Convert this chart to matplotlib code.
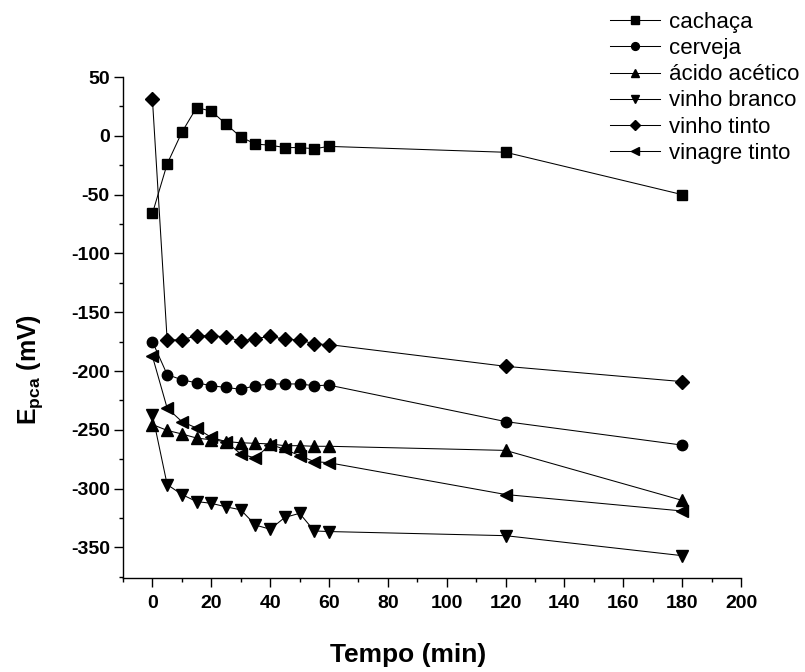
import matplotlib
matplotlib.use("Agg")
import matplotlib.pyplot as plt
from matplotlib.ticker import MultipleLocator

plt.rcParams['font.family'] = ['Liberation Sans', 'DejaVu Sans']
plt.rcParams['axes.unicode_minus'] = False
plt.rcParams['mathtext.fontset'] = 'custom'
plt.rcParams['mathtext.rm'] = 'Liberation Sans'
plt.rcParams['mathtext.bf'] = 'Liberation Sans:bold'

# Sampling times (min)
tempo = [0, 5, 10, 15, 20, 25, 30, 35, 40, 45, 50, 55, 60, 120, 180]

# Open-circuit potential E_pca (mV) for each medium
cachaca = [-66, -24, 3, 24, 21, 10, -1, -7, -8, -10, -10, -11, -9, -14, -50]
cerveja = [-175, -203, -207.5, -210, -212.5, -214, -215.5, -212.5, -211, -211, -211, -212.5, -212, -243, -263]
acido_acetico = [-245.5, -250.5, -253.5, -257, -258.5, -260, -261, -261.5, -262, -263.5, -263.5, -264, -264, -267.5, -310]
vinho_branco = [-237, -296.5, -305, -311, -312.5, -315.5, -318, -331, -334.5, -324.5, -321, -336, -336.5, -340, -357]
vinho_tinto = [31, -173.5, -173.5, -170, -170, -171, -174.5, -172.5, -170.5, -173, -173.5, -177, -177.5, -196, -209]
vinagre_tinto = [-187.5, -231.5, -243, -248.5, -256.5, -260, -270.5, -274, -262.5, -266.5, -272, -277, -278, -305, -319]

series = [
    ("cachaça", cachaca, "s", 7.0),
    ("cerveja", cerveja, "o", 7.5),
    ("ácido acético", acido_acetico, "^", 8.0),
    ("vinho branco", vinho_branco, "v", 8.0),
    ("vinho tinto", vinho_tinto, "D", 7.0),
    ("vinagre tinto", vinagre_tinto, "<", 8.0),
]

fig = plt.figure(figsize=(8.05, 6.72), dpi=100)
W, H = 805, 672
x0, x1, ytop, ybot = 123, 741, 77, 578
ax = fig.add_axes([x0 / W, 1 - ybot / H, (x1 - x0) / W, (ybot - ytop) / H])

handles = []
for label, vals, marker, ms in series:
    h, = ax.plot(tempo, vals, color='black', lw=0.75, marker=marker,
                 markersize=ms, markerfacecolor='black',
                 markeredgecolor='black', label=label)
    handles.append(h)

ax.set_xlim(-10, 200)
ax.set_ylim(-376, 50)
ax.spines['top'].set_visible(False)
ax.spines['right'].set_visible(False)
for s in ('left', 'bottom'):
    ax.spines[s].set_linewidth(1.0)

ax.xaxis.set_minor_locator(MultipleLocator(10))
ax.yaxis.set_minor_locator(MultipleLocator(25))
ax.set_xticks(range(0, 201, 20))
ax.set_yticks(range(-350, 51, 50))
ax.tick_params(which='major', direction='out', length=6.5, width=1.0,
               labelsize=14)
ax.tick_params(axis='x', which='major', pad=6)
ax.tick_params(axis='y', which='major', pad=3)
ax.tick_params(which='minor', direction='out', length=3, width=1.0)
for lab in ax.get_xticklabels() + ax.get_yticklabels():
    lab.set_fontweight('bold')

ax.set_xlabel("Tempo (min)", fontsize=19, fontweight='bold')
ax.xaxis.set_label_coords((408 - x0) / (x1 - x0), -(655 - ybot) / (ybot - ytop),
                          transform=ax.transAxes)
ax.xaxis.label.set_va('center')
ax.set_ylabel(r"E$_{\mathbf{pca}}$ (mV)", fontsize=18, fontweight='bold')
ax.yaxis.set_label_coords(-(x0 - 30) / (x1 - x0), (ybot - 369) / (ybot - ytop),
                          transform=ax.transAxes)
ax.yaxis.label.set_va('center')

fig.legend(handles=handles, loc='upper left',
           bbox_to_anchor=(599 / W, 1 - 1 / H), frameon=False,
           fontsize=16, handlelength=2.25, handletextpad=0.4,
           labelspacing=0.23, numpoints=1, markerscale=0.75, borderpad=0.0)

fig.savefig("out.png", dpi=100)
